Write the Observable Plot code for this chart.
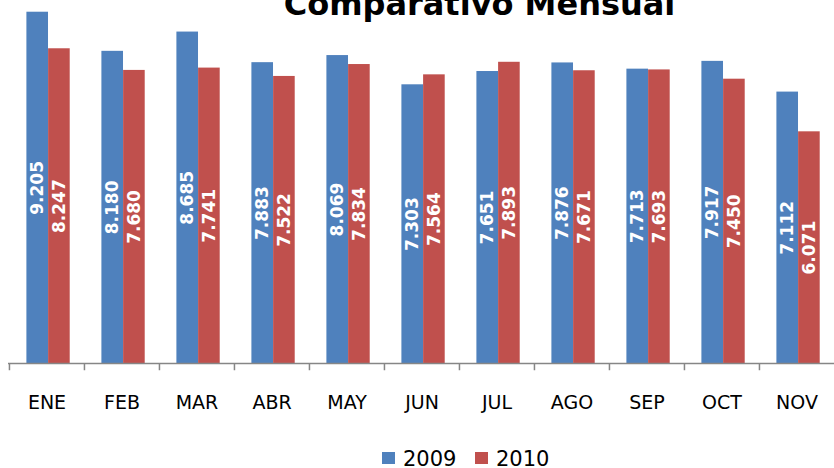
<!DOCTYPE html>
<html>
<head>
<meta charset="utf-8">
<script src="https://cdn.jsdelivr.net/npm/d3@7"></script>
<script src="https://cdn.jsdelivr.net/npm/@observablehq/plot@0.6"></script>
<style>
  html, body { margin: 0; padding: 0; background: #fff; }
  #wrap { position: relative; width: 834px; height: 468px; overflow: hidden; font-family: "DejaVu Sans", sans-serif; }
  #title { position: absolute; left: 0; top: 0; }
  #legend { position: absolute; left: 0; top: 0; }
  #chart { position: absolute; left: 0; top: 0; }
</style>
</head>
<body>
<div id="wrap">
  <div id="chart"></div>
  <svg id="title" width="834" height="40">
    <text x="479.5" y="15" text-anchor="middle" font-family="DejaVu Sans" font-weight="bold" font-size="32" fill="#000">Comparativo Mensual</text>
  </svg>
  <svg id="legend" width="834" height="468" style="pointer-events:none"></svg>
</div>
<script>
const months = ["ENE","FEB","MAR","ABR","MAY","JUN","JUL","AGO","SEP","OCT","NOV"];
const v2009 = [9205,8180,8685,7883,8069,7303,7651,7876,7713,7917,7112];
const v2010 = [8247,7680,7741,7522,7834,7564,7893,7671,7693,7450,6071];
const years = ["2009","2010"];
const colors = ["#4F81BD","#C0504D"];

const data2009 = months.map((m,i) => ({month: m, year: "2009", value: v2009[i]}));
const data2010 = months.map((m,i) => ({month: m, year: "2010", value: v2010[i]}));

const es = d3.formatLocale({decimal: ",", thousands: ".", grouping: [3], currency: ["", "€"]});
const fmt = es.format(",");

const W = 834, H = 468, ML = 8, MB = 105;
const step = (W - ML) / months.length;
const barW = 21.7, padL = 17.4;
const ins1L = padL, ins1R = step - padL - barW;
const ins2L = padL + barW, ins2R = step - padL - 2*barW;
const dx1 = padL + barW/2 - step/2, dx2 = padL + 1.5*barW - step/2;
const axisGray = "#868686";

const labelStyle = {fill: "white", fontWeight: "bold", fontSize: 17, fontFamily: "DejaVu Sans", rotate: -90, textAnchor: "middle", lineAnchor: "middle"};

const chart = Plot.plot({
  width: W, height: H,
  marginLeft: ML, marginRight: 0, marginTop: 0, marginBottom: MB,
  style: {fontFamily: "DejaVu Sans", background: "transparent", overflow: "visible"},
  x: {type: "band", domain: months, padding: 0, label: null},
  y: {domain: [0, 9512], axis: null},
  marks: [
    Plot.barY(data2009, {x: "month", y: "value", fill: colors[0], insetLeft: ins1L, insetRight: ins1R}),
    Plot.barY(data2010, {x: "month", y: "value", fill: colors[1], insetLeft: ins2L, insetRight: ins2R}),
    Plot.text(data2009, {x: "month", y: d => d.value / 2, text: d => fmt(d.value), dx: dx1, ...labelStyle}),
    Plot.text(data2010, {x: "month", y: d => d.value / 2, text: d => fmt(d.value), dx: dx2, ...labelStyle}),
    Plot.ruleY([0], {stroke: axisGray, strokeWidth: 1.5}),
    Plot.ruleX(months, {x: d => d, dx: -step/2, y1: 0, y2: -190, stroke: axisGray, strokeWidth: 1.5}),
    Plot.axisX({tickSize: 0, tickPadding: 32, fontSize: 19, fontFamily: "DejaVu Sans", fill: "#000", label: null})
  ]
});
document.getElementById("chart").appendChild(chart);

// legend
const leg = d3.select("#legend");
const items = [{x: 382, label: years[0], c: colors[0]}, {x: 475, label: years[1], c: colors[1]}];
for (const it of items) {
  leg.append("rect").attr("x", it.x).attr("y", 452).attr("width", 13).attr("height", 12).attr("fill", it.c);
  leg.append("text").attr("x", it.x + 21).attr("y", 466).attr("font-family", "DejaVu Sans").attr("font-size", 21).attr("fill", "#000").text(it.label);
}
</script>
</body>
</html>
